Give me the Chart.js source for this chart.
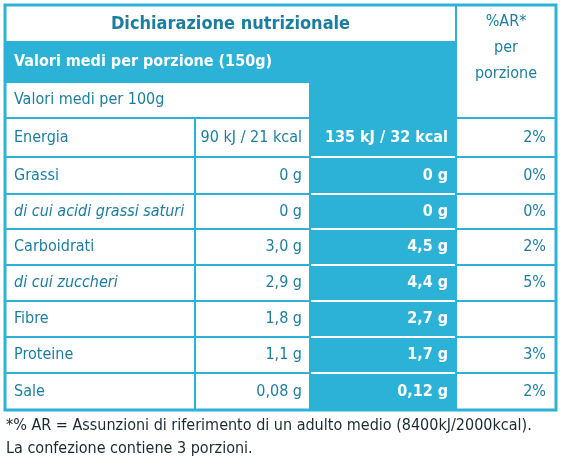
<!DOCTYPE html>
<html lang="it">
<head>
<meta charset="UTF-8" />
<title>Dichiarazione nutrizionale</title>
<script src="https://cdn.jsdelivr.net/npm/chart.js"></script>
<style>
  html, body { margin: 0; padding: 0; background: #fff; }
  #wrap { width: 568px; height: 466px; }
</style>
</head>
<body>
<div id="wrap"><canvas id="table"></canvas></div>
<script>
// data
const nutrients = ['Energia', 'Grassi', 'di cui acidi grassi saturi', 'Carboidrati', 'di cui zuccheri', 'Fibre', 'Proteine', 'Sale'];
const italicRows = [false, false, true, false, true, false, false, false];
const per100g = ['90 kJ / 21 kcal', '0 g', '0 g', '3,0 g', '2,9 g', '1,8 g', '1,1 g', '0,08 g'];
const perPortion = ['135 kJ / 32 kcal', '0 g', '0 g', '4,5 g', '4,4 g', '2,7 g', '1,7 g', '0,12 g'];
const arPercent = ['2%', '0%', '0%', '2%', '5%', '', '3%', '2%'];
const footnote = ['*% AR = Assunzioni di riferimento di un adulto medio (8400kJ/2000kcal).', 'La confezione contiene 3 porzioni.'];

// layout (pixel units on the hidden linear scales)
const colX = [5, 195, 310, 456, 556];
const headY = [5, 42, 82, 118];
const rowY = [118, 157, 194, 229, 265, 301, 337, 373, 410];
const CYAN = '#2cb2d6';
const TEXT = '#1e7d9f';
const FONT = '"DejaVu Sans Condensed", "DejaVu Sans", sans-serif';

const tablePlugin = {
  id: 'nutritionTable',
  afterDraw(chart) {
    const ctx = chart.ctx;
    const sx = chart.scales.x, sy = chart.scales.y;
    const X = v => sx.getPixelForValue(v);
    const Y = v => sy.getPixelForValue(v);
    const rect = (x0, y0, x1, y1, fill) => {
      ctx.fillStyle = fill;
      ctx.fillRect(X(x0), Y(y0), X(x1) - X(x0), Y(y1) - Y(y0));
    };
    const line = (x0, y0, x1, y1, color, w) => {
      ctx.strokeStyle = color; ctx.lineWidth = w;
      ctx.beginPath(); ctx.moveTo(X(x0), Y(y0)); ctx.lineTo(X(x1), Y(y1)); ctx.stroke();
    };
    const text = (s, x, y, align, color, style) => {
      ctx.font = style + ' ' + FONT;
      ctx.fillStyle = color; ctx.textAlign = align; ctx.textBaseline = 'middle';
      ctx.fillText(s, X(x), Y(y));
    };
    ctx.save();
    // fills
    rect(colX[0], headY[1], colX[3], headY[2], CYAN);
    rect(colX[2], headY[2], colX[3], rowY[rowY.length - 1], CYAN);
    // grid lines
    const last = rowY[rowY.length - 1];
    line(colX[0], headY[1], colX[3], headY[1], CYAN, 2);
    line(colX[0], headY[2], colX[3], headY[2], '#ffffff', 2);
    line(colX[0], headY[2], colX[3], headY[2], CYAN, 2);
    rowY.forEach((y, i) => {
      if (i === 0 || i === rowY.length - 1) return;
      line(colX[0], y, colX[2], y, CYAN, 2);
      line(colX[2], y, colX[3], y, '#ffffff', 2);
      line(colX[3], y, colX[4], y, CYAN, 2);
    });
    line(colX[0], rowY[0], colX[4], rowY[0], CYAN, 2);
    line(colX[1], rowY[0], colX[1], last, CYAN, 2);
    line(colX[2], headY[2], colX[2], last, CYAN, 2);
    line(colX[3], headY[0], colX[3], last, CYAN, 2);
    ctx.strokeStyle = CYAN; ctx.lineWidth = 3;
    ctx.strokeRect(X(colX[0]), Y(headY[0]), X(colX[4]) - X(colX[0]), Y(last) - Y(headY[0]));
    // headers
    text('Dichiarazione nutrizionale', (colX[0] + colX[3]) / 2, 24, 'center', TEXT, 'bold 18px');
    text('Valori medi per porzione (150g)', 14, 62, 'left', '#ffffff', 'bold 16px');
    text('Valori medi per 100g', 14, 100, 'left', TEXT, '16px');
    ['%AR*', 'per', 'porzione'].forEach((s, i) =>
      text(s, (colX[3] + colX[4]) / 2, 22 + i * 26, 'center', TEXT, '16px'));
    // rows
    nutrients.forEach((name, i) => {
      const cy = (rowY[i] + rowY[i + 1]) / 2;
      text(name, 14, cy, 'left', TEXT, (italicRows[i] ? 'italic ' : '') + '16px');
      text(per100g[i], colX[2] - 8, cy, 'right', TEXT, '16px');
      text(perPortion[i], colX[3] - 8, cy, 'right', '#ffffff', 'bold 16px');
      text(arPercent[i], colX[4] - 10, cy, 'right', TEXT, '16px');
    });
    footnote.forEach((s, i) => text(s, 6, 426 + i * 23, 'left', '#1a2a33', '16px'));
    ctx.restore();
  }
};

new Chart(document.getElementById('table'), {
  type: 'scatter',
  data: { datasets: [{ data: [] }] },
  options: {
    responsive: true,
    maintainAspectRatio: false,
    animation: false,
    layout: { padding: 0 },
    plugins: { legend: { display: false }, tooltip: { enabled: false } },
    scales: {
      x: { type: 'linear', min: 0, max: 568, display: false },
      y: { type: 'linear', min: 0, max: 466, reverse: true, display: false }
    }
  },
  plugins: [tablePlugin]
});
</script>
</body>
</html>
